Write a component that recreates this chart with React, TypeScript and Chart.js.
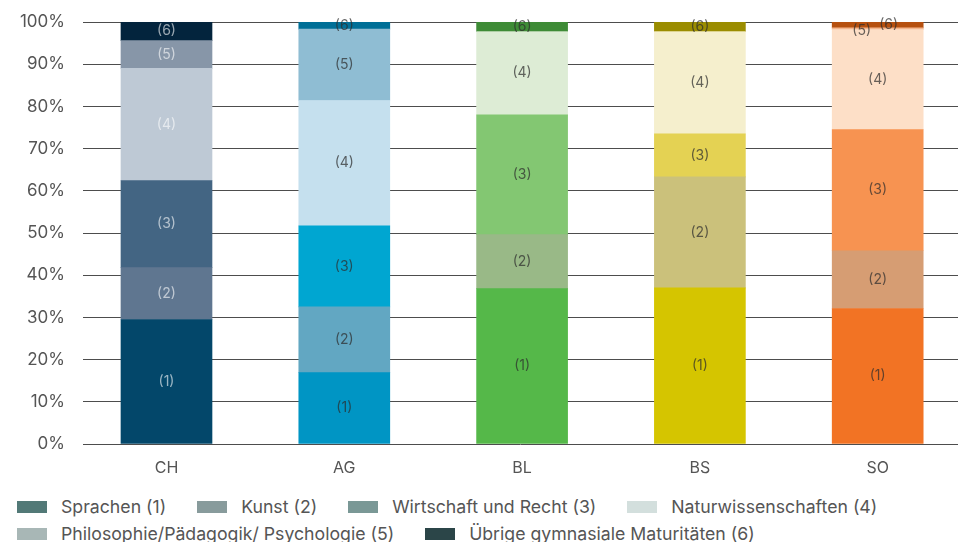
import React, { useEffect, useRef } from "react";
import { Chart, registerables } from "chart.js";

Chart.register(...registerables);

const categories = ["CH", "AG", "BL", "BS", "SO"];
const seriesNames = [
  "Sprachen (1)",
  "Kunst (2)",
  "Wirtschaft und Recht (3)",
  "Naturwissenschaften (4)",
  "Philosophie/Pädagogik/ Psychologie (5)",
  "Übrige gymnasiale Maturitäten (6)",
];
const sprachen = [29.5, 16.9, 36.8, 37.0, 32.1];
const kunst = [12.3, 15.6, 12.8, 26.3, 13.7];
const wirtschaft = [20.6, 19.2, 28.4, 10.2, 28.7];
const natur = [26.6, 29.7, 19.7, 24.2, 23.7];
const philosophie = [6.6, 16.9, 0, 0, 0.4];
const uebrige = [4.4, 1.7, 2.3, 2.3, 1.4];
const yTicks = [0, 10, 20, 30, 40, 50, 60, 70, 80, 90, 100];

const barColors = [
  ["#03476a", "#5f7690", "#436583", "#bec9d5", "#8796a8", "#03243d"],
  ["#0095c4", "#62a7c2", "#00a6d1", "#c5e0ee", "#8fbdd3", "#006f97"],
  ["#55b849", "#99b987", "#83c772", "#ddecd5", "#b5d8a9", "#3e8b36"],
  ["#d5c500", "#cbc17b", "#e4d253", "#f5efcd", "#ece29a", "#9a8c00"],
  ["#f27324", "#d69d73", "#f79351", "#fddfc7", "#f5b68e", "#b6500f"],
];
const legendColors = ["#527977", "#889b9c", "#7a9896", "#d3dfdd", "#a8b7b6", "#2b4548"];

const FONT = "Inter, 'Noto Sans', sans-serif";

const labelPlugin = {
  id: "segLabels",
  afterDatasetsDraw(chart: any) {
    const ctx = chart.ctx;
    ctx.save();
    ctx.font = `14px ${FONT}`;
    ctx.textAlign = "center";
    ctx.textBaseline = "middle";
    chart.data.datasets.forEach((ds: any, di: number) => {
      const meta = chart.getDatasetMeta(di);
      meta.data.forEach((el: any, bi: number) => {
        const v = ds.data[bi].y;
        if (!(v > 0)) return;
        const p = el.getProps(["x", "y", "base"], true);
        let cx = p.x;
        let cy = (p.y + p.base) / 2;
        if (di === 4 && v < 1) {
          cx -= 16;
          cy += 2;
        }
        if (di === 5) {
          const prev = chart.data.datasets[4].data[bi].y;
          if (prev > 0 && prev < 1) cx += 11;
        }
        ctx.fillStyle = bi === 0 ? "rgba(255,255,255,0.6)" : "rgba(45,45,45,0.72)";
        ctx.fillText(`(${di + 1})`, cx, cy);
      });
    });
    ctx.restore();
  },
};

export default function App() {
  const ref = useRef<HTMLCanvasElement>(null);
  useEffect(() => {
    const all = [sprachen, kunst, wirtschaft, natur, philosophie, uebrige];
    const chart = new Chart(ref.current!, {
      type: "bar",
      data: {
        datasets: all.map((vals, di) => ({
          label: seriesNames[di],
          data: vals.map((v, i) => ({ x: i, y: v })),
          backgroundColor: barColors.map((c) => c[di]),
          borderWidth: 0,
          barThickness: 91,
        })),
      },
      options: {
        animation: false,
        responsive: false,
        maintainAspectRatio: false,
        layout: { padding: { top: 22, right: 0, bottom: 2, left: 0 } },
        plugins: { legend: { display: false }, tooltip: { enabled: false } },
        scales: {
          x: {
            type: "linear",
            stacked: true,
            offset: false,
            min: -0.4696,
            max: 4.4517,
            grid: { display: false, drawTicks: false, offset: false },
            border: { display: false },
            afterBuildTicks: (scale: any) => {
              scale.ticks = categories.map((_, i) => ({ value: i }));
            },
            afterFit: (scale: any) => {
              scale.height = 34;
              scale.paddingLeft = 0;
              scale.paddingRight = 0;
            },
            ticks: {
              autoSkip: false,
              maxRotation: 0,
              padding: 15,
              color: "#555",
              font: { family: FONT, size: 16 },
              callback: (v: any) => categories[v] ?? "",
            },
          },
          y: {
            stacked: true,
            min: 0,
            max: 100,
            afterBuildTicks: (scale: any) => {
              scale.ticks = yTicks.map((v) => ({ value: v }));
            },
            afterFit: (scale: any) => {
              scale.width = 83;
              scale.paddingTop = 0;
              scale.paddingBottom = 0;
            },
            grid: { color: "#4d4d4d", lineWidth: 1, drawTicks: false },
            border: { display: false },
            ticks: {
              padding: 18,
              color: "#555",
              font: { family: FONT, size: 17 },
              callback: (v: any) => `${v}%`,
            },
          },
        },
      },
      plugins: [labelPlugin],
    });
    return () => chart.destroy();
  }, []);

  return (
    <div style={{ position: "absolute", left: 0, top: 0, width: 958, height: 542, overflow: "hidden", background: "#fff" }}>
      <canvas ref={ref} width={958} height={480} style={{ display: "block", width: 958, height: 480 }} />
      <div
        style={{
          position: "absolute",
          left: 17,
          top: 493,
          width: 930,
          display: "flex",
          flexWrap: "wrap",
          fontFamily: FONT,
          fontSize: 17.7,
          color: "#555",
        }}
      >
        {seriesNames.map((n, i) => (
          <div key={n} style={{ display: "flex", alignItems: "center", height: 27, marginRight: 31, whiteSpace: "nowrap" }}>
            <span style={{ display: "inline-block", width: 30, height: 12, background: legendColors[i], marginRight: 14 }} />
            <span>{n}</span>
          </div>
        ))}
      </div>
    </div>
  );
}
